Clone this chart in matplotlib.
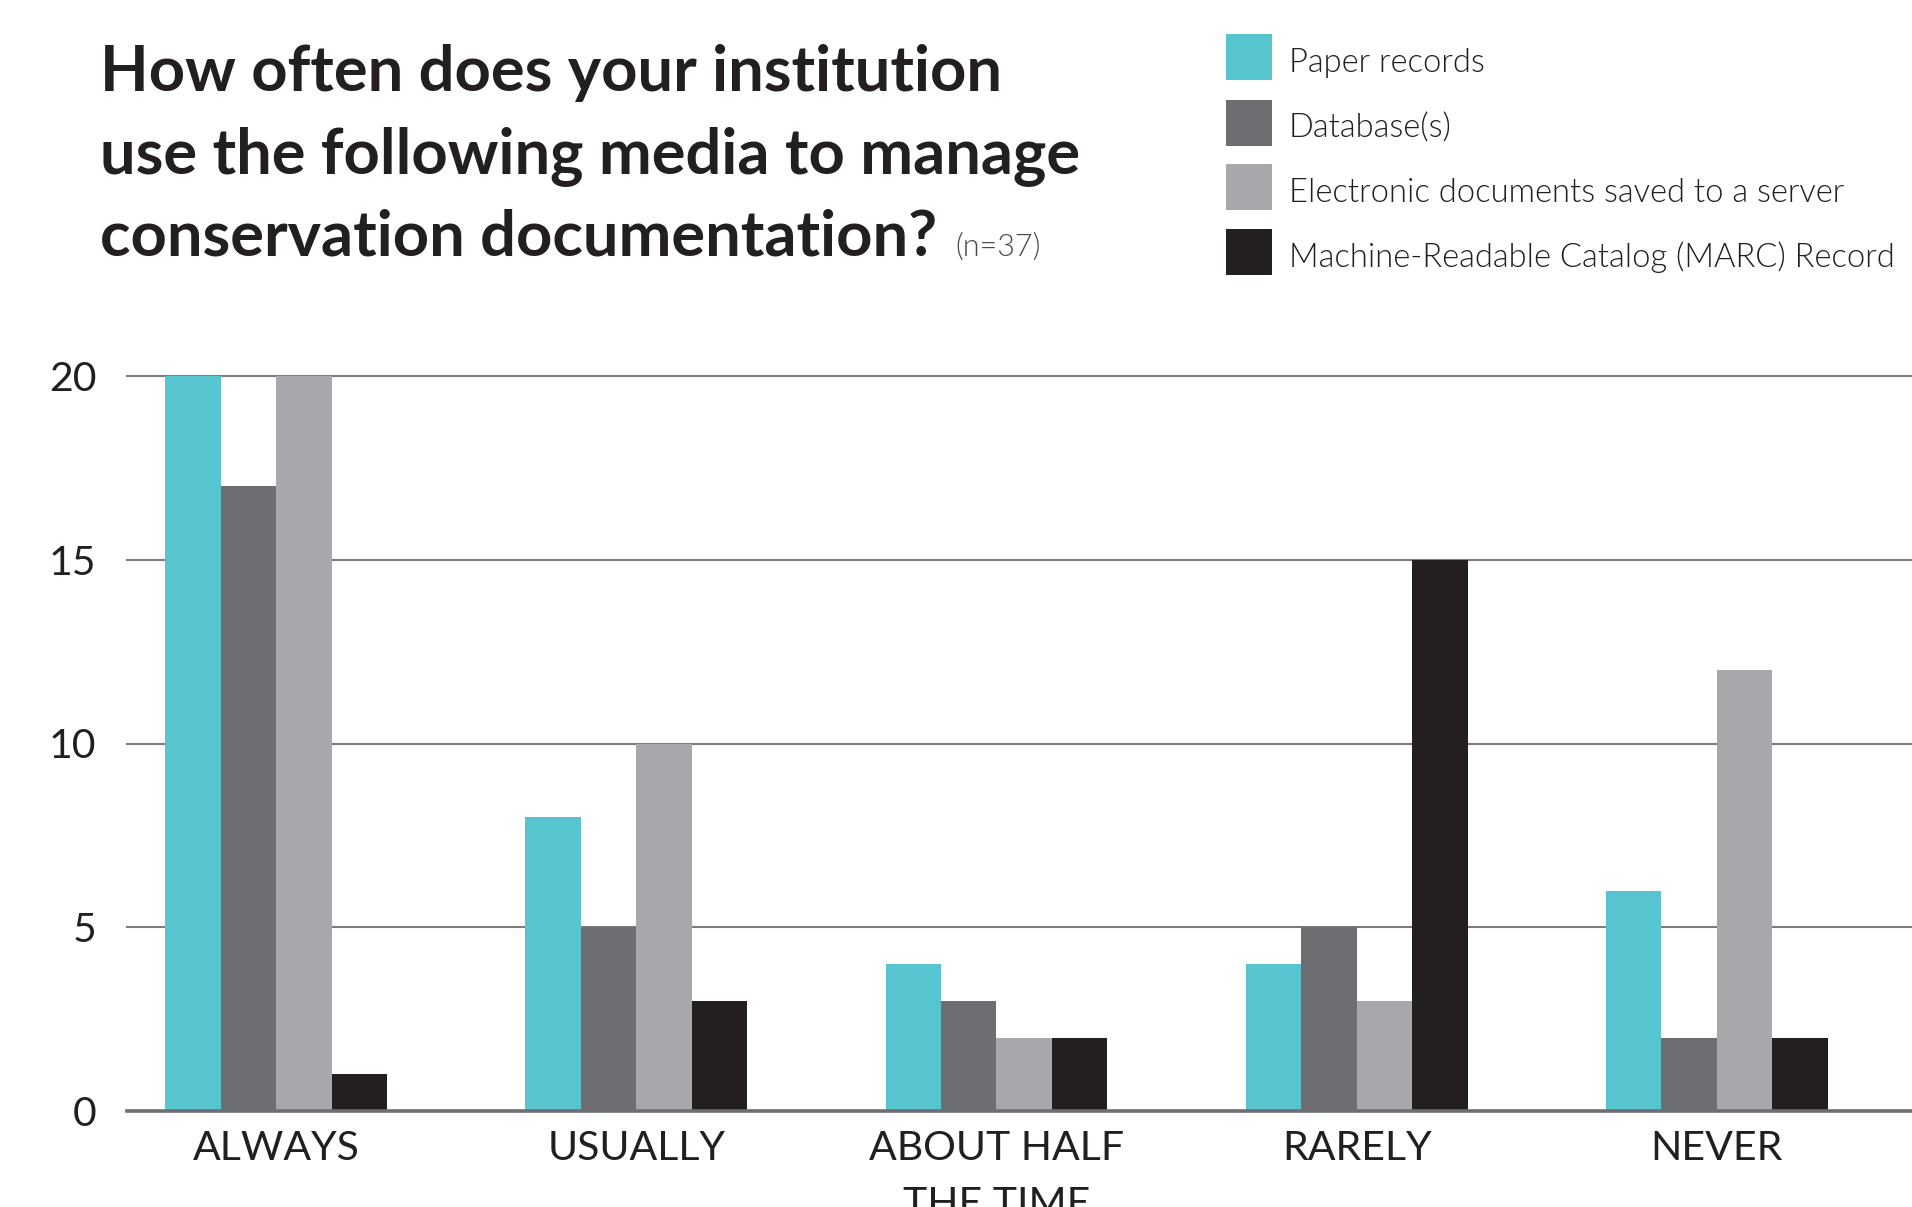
import matplotlib
matplotlib.use("Agg")
import matplotlib.pyplot as plt
from matplotlib.patches import Rectangle
import numpy as np

# Survey responses (number of institutions, n=37)
categories = ["ALWAYS", "USUALLY", "ABOUT HALF\nTHE TIME", "RARELY", "NEVER"]
series_names = [
    "Paper records",
    "Database(s)",
    "Electronic documents saved to a server",
    "Machine-Readable Catalog (MARC) Record",
]
paper_records = [20, 8, 4, 4, 6]
databases = [17, 5, 3, 5, 2]
electronic_docs = [20, 10, 2, 3, 12]
marc_records = [1, 3, 2, 15, 2]
y_ticks = [0, 5, 10, 15, 20]

series_values = [paper_records, databases, electronic_docs, marc_records]
series_colors = ["#57c5cf", "#6d6e72", "#a7a8ac", "#231f20"]
text_color = "#231f20"

plt.rcParams["font.family"] = ["Lato", "DejaVu Sans"]

W, H = 1912, 1207
fig = plt.figure(figsize=(W / 100, H / 100), dpi=100)
ax = fig.add_axes([127 / W, (H - 1111) / H, 1 - 127 / W, (1111 - 376) / H])

x = np.arange(len(categories))
bar_w = 0.154
offsets = (np.arange(len(series_values)) - 1.5) * bar_w
for vals, off, col, name in zip(series_values, offsets, series_colors, series_names):
    ax.bar(x + off, vals, bar_w, color=col, linewidth=0, zorder=2, label=name)

ax.set_xlim(-0.414, 4.542)
ax.set_ylim(0, 20)
ax.set_yticks(y_ticks)
ax.set_xticks(x)
ax.set_xticklabels(categories)

for s in ax.spines.values():
    s.set_visible(False)
ax.set_axisbelow(True)
ax.yaxis.grid(True, color="#7d7d80", linewidth=1.5)
for gl in ax.get_ygridlines():
    gl.set_clip_on(False)
ax.axhline(0, color="#6d6e71", linewidth=2.6, zorder=3, clip_on=False)

ax.tick_params(axis="y", length=0, pad=22, labelsize=29.5, labelcolor=text_color)
ax.tick_params(axis="x", length=0, pad=14, labelsize=29.5, labelcolor=text_color)
for lbl in ax.get_xticklabels():
    lbl.set_linespacing(1.62)

# Title block
title_lines = [
    "How often does your institution",
    "use the following media to manage",
    "conservation documentation?",
]
baselines = [91, 173, 256]
title_texts = []
for line, yb in zip(title_lines, baselines):
    t = fig.text(100 / W, 1 - yb / H, line, fontsize=45.5, fontweight="bold",
                 color=text_color, ha="left", va="baseline")
    title_texts.append(t)

fig.canvas.draw()
renderer = fig.canvas.get_renderer()
bb = title_texts[-1].get_window_extent(renderer)
fig.text((bb.x1 + 18) / W, 1 - 256 / H, "(n=37)", fontsize=22,
         fontweight=300, color="#4a4a4c", ha="left", va="baseline")

# Legend: square swatches with labels
swatch_x, swatch_size, text_x = 1226, 46, 1289
swatch_tops = [34, 100, 164, 229]
for name, col, top in zip(series_names, series_colors, swatch_tops):
    fig.patches.append(Rectangle((swatch_x / W, 1 - (top + swatch_size) / H),
                                 swatch_size / W, swatch_size / H,
                                 facecolor=col, edgecolor="none",
                                 transform=fig.transFigure, figure=fig))
    fig.text(text_x / W, 1 - (top + 38) / H, name, fontsize=23.6, fontweight=300,
             color=text_color, ha="left", va="baseline")

fig.savefig("out.png", dpi=100)
